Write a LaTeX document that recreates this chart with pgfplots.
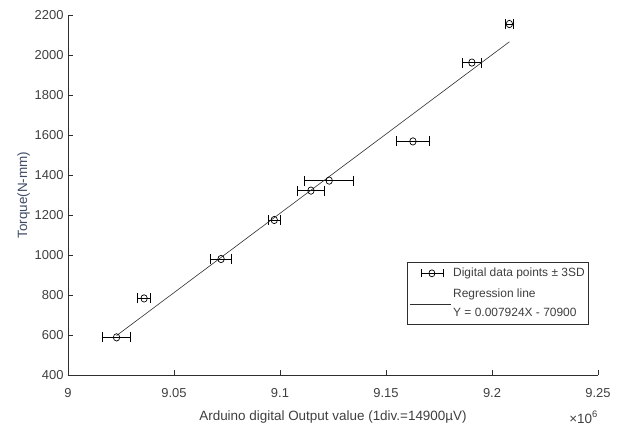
\documentclass[border=0pt]{standalone}
\usepackage{pgfplots}
\pgfplotsset{compat=1.18}
\usepackage{pgfplotstable}
\usepackage{fontspec}
\setmainfont{Liberation Sans}
\definecolor{txt}{HTML}{3F3F3F}
\definecolor{ylab}{HTML}{3E4B66}
\definecolor{axc}{HTML}{2E2E2E}
\pgfplotstableread{
x y ex
9.0229 588 0.0066
9.0359 783 0.0030
9.0722 980 0.0050
9.0973 1175 0.0029
9.1146 1322 0.0063
9.1232 1372 0.0116
9.1627 1568 0.0078
9.1905 1962 0.0046
9.2082 2155 0.0021
}\datatab
\begin{document}
\begin{tikzpicture}
\begin{axis}[name=ax, scale only axis, width=530bp, height=360bp,
  xmin=9, xmax=9.25, ymin=400, ymax=2200,
  xtick={9,9.05,9.1,9.15,9.2,9.25},
  xticklabels={9,9.05,9.1,9.15,9.2,9.25},
  ytick={400,600,800,1000,1200,1400,1600,1800,2000,2200},
  yticklabels={400,600,800,1000,1200,1400,1600,1800,2000,2200},
  axis x line*=bottom, axis y line*=left,
  axis line style={axc,-,line width=0.7pt},
  tick style={axc,line width=0.7pt}, tick align=inside, major tick length=5bp,
  /pgf/number format/assume math mode=true,
  ticklabel style={font=\fontsize{13}{15}\selectfont, text=txt},
  xticklabel style={yshift=-10bp},
  yticklabel style={xshift=-1bp},
  xlabel={Arduino digital Output value (1div.=14900µV)},
  ylabel={Torque(N-mm)},
  xlabel style={font=\fontsize{13.5}{15}\selectfont, text=txt, yshift=-6bp},
  ylabel style={font=\fontsize{13.5}{15}\selectfont, text=ylab, yshift=-2bp},
  legend style={at={(0.983,0.314)}, anchor=north east, draw=axc, line width=0.6pt,
    font=\fontsize{12}{20}\selectfont, text=txt, cells={align=left},
    inner xsep=2bp, inner ysep=4bp, row sep=6bp},
  legend cell align=left,
]
\addplot[black, line width=0.7pt, mark=o, mark size=3.2bp, only marks,
  mark options={yscale=1.15},
  legend image code/.code={
    \draw[black,line width=0.8pt] (5bp,0bp) -- (27bp,0bp);
    \draw[black,line width=0.8pt] (5bp,-4bp) -- (5bp,4bp);
    \draw[black,line width=0.8pt] (27bp,-4bp) -- (27bp,4bp);
    \draw[black,line width=0.7pt] (16bp,0bp) ellipse (3bp and 3.5bp);},
  error bars/.cd, x dir=both, x explicit, error mark=|,
  error bar style={black,line width=0.8pt},
  error mark options={black, mark size=5bp, line width=0.8pt}]
  table[x=x, y=y, x error=ex] {\datatab};
\addlegendentry{Digital data points ± 3SD}
\addlegendimage{legend image code/.code={\draw[axc,line width=0.6pt] (-6bp,-1bp) -- (35bp,-1bp);}}
\addlegendentry{Regression line\\Y = 0.007924X - 70900}
\addplot[axc, line width=0.6pt, forget plot] coordinates {(9.0229,597) (9.2082,2066)};
\end{axis}
\node[anchor=base east, text=txt, font=\fontsize{13.5}{15}\selectfont, inner sep=0pt] at ([yshift=-48bp]ax.south east) {×10\textsuperscript{6}};
\pgfresetboundingbox
\path ([xshift=-68bp,yshift=-52bp]ax.south west) rectangle ([xshift=21bp,yshift=15bp]ax.north east);
\end{tikzpicture}
\end{document}
